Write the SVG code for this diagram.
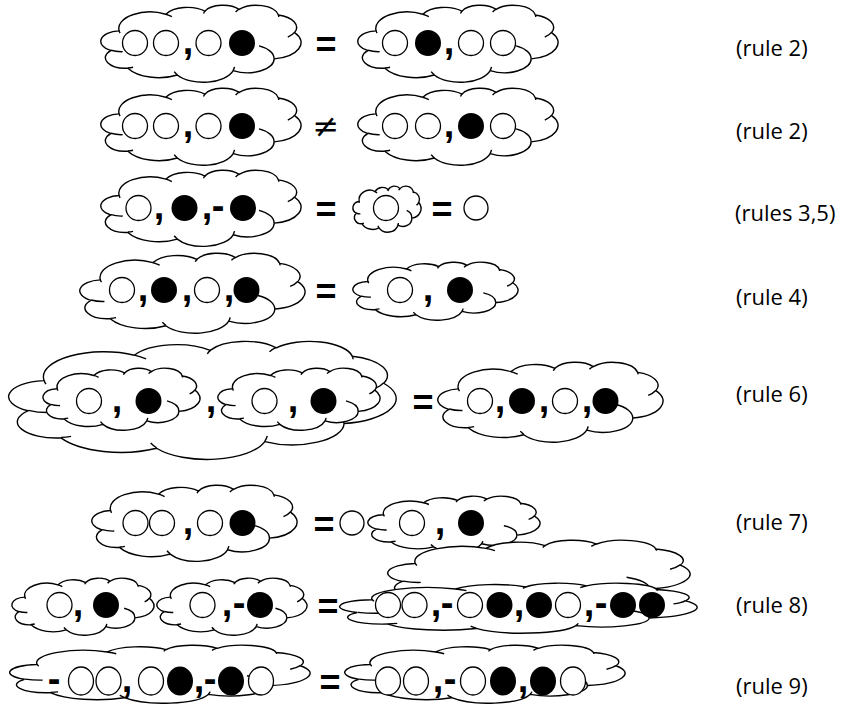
<svg xmlns="http://www.w3.org/2000/svg" xmlns:xlink="http://www.w3.org/1999/xlink" width="844" height="704" viewBox="0 0 844 704">
<style>
.w{fill:#fff;stroke:#000;stroke-width:1.3}
.b{fill:#000}
.p{font-family:"Liberation Sans",Arial,sans-serif;font-weight:bold;font-size:38px;text-anchor:middle;fill:#000}
.eq{font-family:"Liberation Sans",Arial,sans-serif;font-weight:bold;font-size:36px;text-anchor:middle;fill:#000}
.ne{font-family:"DejaVu Sans",sans-serif;font-size:32px;text-anchor:middle;fill:#000}
.lbl{font-family:"Open Sans","Liberation Sans",sans-serif;font-size:22px;fill:#000}
</style>
<defs>
<g id="cloud">
<path fill="#fff" stroke="#000" stroke-width="1.4" vector-effect="non-scaling-stroke" d="M 9.03 33.26 A 15.63 21.27 0 0 1 32.42 12.04 A 12.35 16.82 0 0 1 51.98 7.95 A 10.10 13.76 0 0 1 69.06 5.75 A 11.24 15.27 0 0 1 88.70 12.92 A 12.35 16.84 0 0 1 96.80 35.80 A 15.68 21.34 0 0 1 86.58 69.92 A 13.39 18.21 0 0 1 66.10 85.23 A 15.63 21.33 0 0 1 38.14 90.89 A 17.87 24.41 0 0 1 13.43 82.10 A 10.09 13.70 0 0 1 4.88 59.14 A 10.06 13.76 0 0 1 8.94 33.57 Z"/>
<path fill="none" stroke="#000" stroke-width="1.4" vector-effect="non-scaling-stroke" d="M 10.86 60.60 A 10.06 13.76 0 0 1 5.00 58.75 M 16.04 80.79 A 10.09 13.70 0 0 1 13.47 81.67 M 38.14 90.49 A 15.63 21.33 0 0 1 36.60 86.47 M 66.73 80.44 A 15.63 21.33 0 0 1 66.11 84.86 M 79.00 53.13 A 13.39 18.21 0 0 1 86.53 69.65 M 96.76 35.54 A 12.35 16.84 0 0 1 93.40 41.74 M 88.71 12.56 A 11.24 15.27 0 0 1 88.89 15.49 M 67.31 9.15 A 11.24 15.27 0 0 1 69.03 5.41 M 51.25 10.93 A 10.10 13.76 0 0 1 52.09 7.71 M 32.41 12.02 A 15.63 21.27 0 0 1 35.42 15.15 M 9.55 36.55 A 15.63 21.27 0 0 1 9.03 33.26"/>
</g>
</defs>

<g id="row1">
<use href="#cloud" transform="translate(101 5) scale(2.0 0.77)"/>
<circle class="w" cx="135" cy="43" r="12.5"/><circle class="w" cx="166" cy="43" r="12.5"/>
<text class="p" x="188" y="54">,</text>
<circle class="w" cx="208.5" cy="43" r="12.5"/><circle class="b" cx="242" cy="43" r="13"/>
<text class="eq" x="326" y="57">=</text>
<use href="#cloud" transform="translate(358 5) scale(2.0 0.77)"/>
<circle class="w" cx="395" cy="43" r="12.5"/><circle class="b" cx="428" cy="43" r="13"/>
<text class="p" x="449" y="54">,</text>
<circle class="w" cx="471" cy="43" r="12.5"/><circle class="w" cx="503" cy="43" r="12.5"/>
<text class="lbl" x="736" y="56">(rule 2)</text>
</g>

<g id="row2">
<use href="#cloud" transform="translate(101 88) scale(2.0 0.77)"/>
<circle class="w" cx="135" cy="126" r="12.5"/><circle class="w" cx="166" cy="126" r="12.5"/>
<text class="p" x="188" y="137">,</text>
<circle class="w" cx="208.5" cy="126" r="12.5"/><circle class="b" cx="242" cy="126" r="13"/>
<text class="ne" x="326" y="137">≠</text>
<use href="#cloud" transform="translate(358 88) scale(2.0 0.77)"/>
<circle class="w" cx="395" cy="126" r="12.5"/><circle class="w" cx="428" cy="126" r="12.5"/>
<text class="p" x="449" y="137">,</text>
<circle class="b" cx="471" cy="126" r="13"/><circle class="w" cx="503" cy="126" r="12.5"/>
<text class="lbl" x="736" y="139">(rule 2)</text>
</g>

<g id="row3">
<use href="#cloud" transform="translate(101 170) scale(2.0 0.76)"/>
<circle class="w" cx="138.5" cy="208" r="12.5"/>
<text class="p" x="159" y="219">,</text>
<circle class="b" cx="184.5" cy="208" r="13"/>
<text class="p" x="207" y="219">,</text>
<text class="p" x="218" y="219">-</text>
<circle class="b" cx="243" cy="208" r="13"/>
<text class="eq" x="326" y="222">=</text>
<use href="#cloud" transform="translate(353 186) scale(0.68 0.46)"/>
<circle class="w" cx="386" cy="208" r="12.5"/>
<text class="eq" x="442" y="222">=</text>
<circle class="w" cx="476" cy="208" r="12"/>
<text class="lbl" x="735" y="221">(rules 3,5)</text>
</g>

<g id="row4">
<use href="#cloud" transform="translate(80 253) scale(2.25 0.80)"/>
<circle class="w" cx="122" cy="290" r="12.5"/>
<text class="p" x="143" y="301">,</text>
<circle class="b" cx="164" cy="290" r="13"/>
<text class="p" x="187" y="301">,</text>
<circle class="w" cx="207" cy="290" r="12.5"/>
<text class="p" x="229" y="301">,</text>
<circle class="b" cx="246.5" cy="290" r="13"/>
<text class="eq" x="326" y="304">=</text>
<use href="#cloud" transform="translate(353 262) scale(1.65 0.58)"/>
<circle class="w" cx="400" cy="290" r="12.5"/>
<text class="p" x="428" y="301">,</text>
<circle class="b" cx="460" cy="290" r="13"/>
<text class="lbl" x="736" y="305">(rule 4)</text>
</g>

<g id="row6">
<use href="#cloud" transform="translate(9 341) scale(3.87 1.18)"/>
<use href="#cloud" transform="translate(43 368) scale(1.57 0.62)"/>
<circle class="w" cx="89" cy="401" r="12.5"/>
<text class="p" x="117" y="412">,</text>
<circle class="b" cx="148.5" cy="401" r="13"/>
<text class="p" x="211" y="412">,</text>
<use href="#cloud" transform="translate(218 368) scale(1.62 0.62)"/>
<circle class="w" cx="264.5" cy="401" r="12.5"/>
<text class="p" x="293" y="412">,</text>
<circle class="b" cx="323.5" cy="401" r="13"/>
<text class="eq" x="423" y="415">=</text>
<use href="#cloud" transform="translate(438 362) scale(2.25 0.80)"/>
<circle class="w" cx="480" cy="401" r="12.5"/>
<text class="p" x="500" y="412">,</text>
<circle class="b" cx="522" cy="401" r="13"/>
<text class="p" x="544" y="412">,</text>
<circle class="w" cx="565" cy="401" r="12.5"/>
<text class="p" x="587" y="412">,</text>
<circle class="b" cx="605.5" cy="401" r="13"/>
<text class="lbl" x="736" y="402">(rule 6)</text>
</g>

<g id="row7">
<use href="#cloud" transform="translate(92 485) scale(2.05 0.76)"/>
<circle class="w" cx="135.5" cy="523" r="12.5"/><circle class="w" cx="162" cy="523" r="12.5"/>
<text class="p" x="188" y="534">,</text>
<circle class="w" cx="210" cy="523" r="12.5"/><circle class="b" cx="242.5" cy="523" r="13"/>
<text class="eq" x="324" y="537">=</text>
<circle class="w" cx="352" cy="523" r="12"/>
<use href="#cloud" transform="translate(368 496) scale(1.72 0.56)"/>
<circle class="w" cx="412" cy="523" r="12.5"/>
<text class="p" x="440" y="534">,</text>
<circle class="b" cx="471" cy="523" r="13"/>
<text class="lbl" x="736" y="530">(rule 7)</text>
</g>

<g id="row8">
<use href="#cloud" transform="translate(12 578) scale(1.42 0.57)"/>
<circle class="w" cx="59.5" cy="605" r="12.5"/>
<text class="p" x="78" y="616">,</text>
<circle class="b" cx="106" cy="605" r="13"/>
<use href="#cloud" transform="translate(157 578) scale(1.50 0.57)"/>
<circle class="w" cx="202.5" cy="605" r="12.5"/>
<text class="p" x="227" y="616">,</text>
<text class="p" x="239" y="616">-</text>
<circle class="b" cx="260" cy="605" r="13"/>
<text class="eq" x="328" y="619">=</text>
<use href="#cloud" transform="translate(388 540) scale(3.02 0.70)"/>
<use href="#cloud" transform="translate(340 583) scale(3.57 0.50)"/>
<circle class="w" cx="388" cy="605" r="12.5"/><circle class="w" cx="414.5" cy="605" r="12.5"/>
<text class="p" x="436" y="616">,</text>
<text class="p" x="447" y="616">-</text>
<circle class="w" cx="470" cy="605" r="12.5"/><circle class="b" cx="499.5" cy="605" r="13"/>
<text class="p" x="519" y="616">,</text>
<circle class="b" cx="539" cy="605" r="13"/><circle class="w" cx="568" cy="605" r="12.5"/>
<text class="p" x="589" y="616">,</text>
<text class="p" x="601" y="616">-</text>
<circle class="b" cx="623" cy="605" r="13"/><circle class="b" cx="652" cy="605" r="13"/>
<text class="lbl" x="736" y="613">(rule 8)</text>
</g>

<g id="row9">
<use href="#cloud" transform="translate(10 645) scale(3.0 0.58)"/>
<text class="p" x="54" y="692">-</text>
<ellipse class="w" cx="81" cy="681" rx="12.5" ry="14"/><ellipse class="w" cx="108.5" cy="681" rx="12.5" ry="14"/>
<text class="p" x="127" y="692">,</text>
<ellipse class="w" cx="151" cy="681" rx="12.5" ry="14"/><ellipse class="b" cx="180" cy="681" rx="13" ry="14.5"/>
<text class="p" x="199" y="692">,</text>
<text class="p" x="210" y="692">-</text>
<ellipse class="b" cx="231" cy="681" rx="13" ry="14.5"/><ellipse class="w" cx="261" cy="681" rx="12.5" ry="14"/>
<text class="eq" x="330" y="695">=</text>
<use href="#cloud" transform="translate(345 645) scale(2.8 0.58)"/>
<ellipse class="w" cx="388" cy="681" rx="12.5" ry="14"/><ellipse class="w" cx="416" cy="681" rx="12.5" ry="14"/>
<text class="p" x="438" y="692">,</text>
<text class="p" x="450" y="692">-</text>
<ellipse class="w" cx="473" cy="681" rx="12.5" ry="14"/><ellipse class="b" cx="503" cy="681" rx="13" ry="14.5"/>
<text class="p" x="523" y="692">,</text>
<ellipse class="b" cx="543" cy="681" rx="13" ry="14.5"/><ellipse class="w" cx="573" cy="681" rx="12.5" ry="14"/>
<text class="lbl" x="736" y="694">(rule 9)</text>
</g>
</svg>
